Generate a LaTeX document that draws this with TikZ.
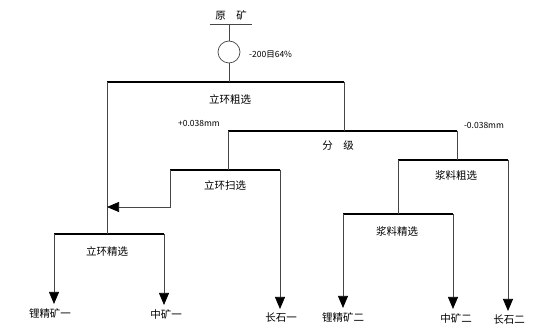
\documentclass[tikz,border=0pt]{standalone}
\usepackage{fontspec}
\usepackage{tikz}
\usetikzlibrary{arrows.meta, positioning}
\newfontfamily\cjk{Noto Sans CJK SC}
\definecolor{flowgray}{RGB}{70,70,70}

\begin{document}
\begin{tikzpicture}[x=1pt, y=-1pt,
    label/.style={font=\cjk\fontsize{10.5}{12}\selectfont, inner sep=1pt},
    note/.style={font=\cjk\fontsize{8.5}{10}\selectfont, inner sep=1pt},
    bar/.style={line width=2pt, black},
    pipe/.style={line width=0.7pt, flowgray},
    flow/.style={-{Triangle[length=12pt, width=10pt, fill=black, color=black]}, line width=0.7pt, flowgray}]

\useasboundingbox (0,0) rectangle (550,336);

% feed and grinding
\node[label] (ore) at (231,15) {原\quad 矿};
\coordinate (oreL) at (210,24);
\coordinate (oreM) at (229,24);
\coordinate (oreR) at (252,24);
\node[circle, draw=flowgray, line width=0.7pt, minimum size=22pt, inner sep=0pt] (mill) at (229,52) {};
\node[note, anchor=west] (grind) at (248,55) {-200目64\%};

% rougher (立环粗选)
\coordinate (b1L) at (107,82);
\coordinate (b1M) at (229,82);
\coordinate (b1R) at (344,82);
\node[label] (rough) at (230,99) {立环粗选};

% classification (分级)
\coordinate (b2L) at (228,131);
\coordinate (b2R) at (457,131);
\node[label] (classify) at (338,146) {分\quad 级};
\node[note] (coarse) at (199,123) {+0.038mm};
\node[note] (fine) at (484,125) {-0.038mm};

% scavenger (立环扫选)
\coordinate (b3L) at (170,170);
\coordinate (b3R) at (280,170);
\node[label] (scav) at (225,185) {立环扫选};
\coordinate (back1) at (170,207);
\coordinate (back2) at (107,207);

% cleaner (立环精选)
\coordinate (b4L) at (54,234);
\coordinate (b4M) at (107,234);
\coordinate (b4R) at (164,234);
\node[label] (clean) at (107,251) {立环精选};

% slurry rougher (浆料粗选)
\coordinate (b5L) at (398,160);
\coordinate (b5R) at (508,160);
\node[label] (srough) at (456,175) {浆料粗选};

% slurry cleaner (浆料精选)
\coordinate (b6L) at (343,214);
\coordinate (b6M) at (398,214);
\coordinate (b6R) at (453,214);
\node[label] (sclean) at (397,231) {浆料精选};

% products
\node[label] (li1) at (50,313) {锂精矿一};
\node[label] (mid1) at (166,314) {中矿一};
\node[label] (fs1) at (281,318) {长石一};
\node[label] (li2) at (343,317) {锂精矿二};
\node[label] (mid2) at (456,318) {中矿二};
\node[label] (fs2) at (509,320) {长石二};

% bars
\draw[pipe] (oreL) -- (oreR);
\draw[bar] (b1L) -- (b1R);
\draw[bar] (b2L) -- (b2R);
\draw[bar] (b3L) -- (b3R);
\draw[bar] (b4L) -- (b4R);
\draw[bar] (b5L) -- (b5R);
\draw[bar] (b6L) -- (b6R);

% pipes
\draw[pipe] (oreM) -- (mill);
\draw[pipe] (mill) -- (b1M);
\draw[pipe] (b1R) -- (b1R |- b2L);
\draw[pipe] (b1L) -- (b4M);
\draw[pipe] (b2L) -- (b2L |- b3L);
\draw[pipe] (b2R) -- (b2R |- b5L);
\draw[pipe] (b5L) -- (b6M);
\draw[flow] (b3L) -- (back1) -- (back2);

% products
\draw[flow] (b4L) -- ([yshift=3pt]b4L |- li1.north);
\draw[flow] (b4R) -- ([yshift=3pt]b4R |- mid1.north);
\draw[flow] (b3R) -- ([yshift=3pt]b3R |- fs1.north);
\draw[flow] (b6L) -- ([yshift=3pt]b6L |- li2.north);
\draw[flow] (b6R) -- ([yshift=3pt]b6R |- mid2.north);
\draw[flow] (b5R) -- ([yshift=3pt]b5R |- fs2.north);
\end{tikzpicture}
\end{document}
